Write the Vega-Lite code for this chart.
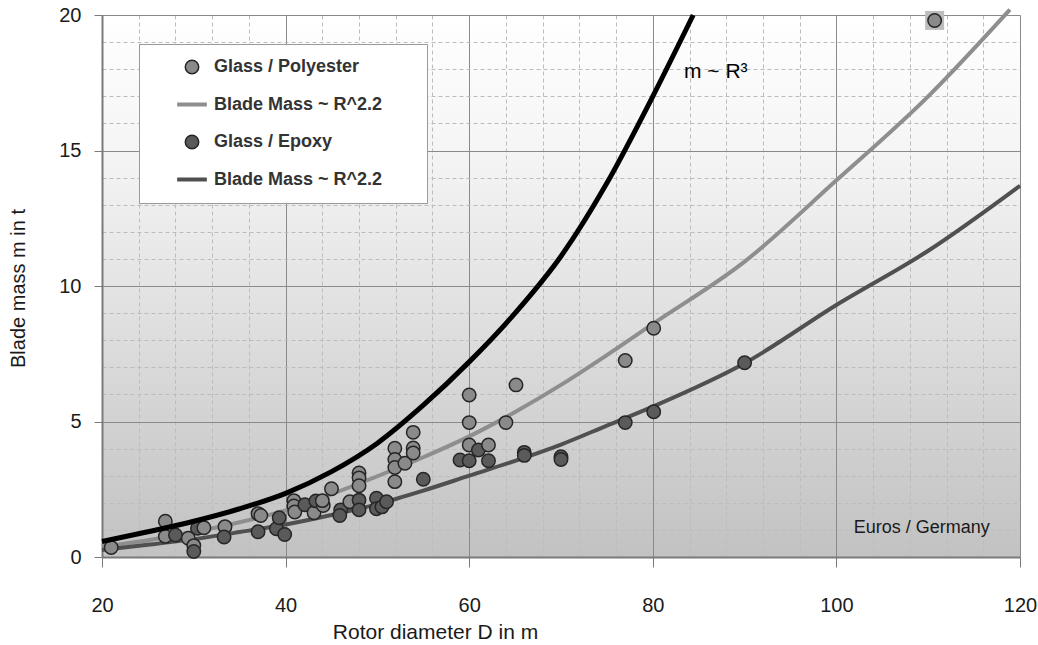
{
  "$schema": "https://vega.github.io/schema/vega-lite/v6.json",
  "width": 918,
  "height": 542,
  "autosize": {"type": "none"},
  "padding": {"left": 102, "top": 15, "right": 18, "bottom": 88},
  "background": "#ffffff",
  "config": {
    "font": "Liberation Sans",
    "view": {
      "stroke": null,
      "fill": {"gradient": "linear", "x1": 0, "y1": 0, "x2": 0, "y2": 1,
        "stops": [
          {"offset": 0, "color": "#ffffff"},
          {"offset": 0.25, "color": "#f5f5f5"},
          {"offset": 0.5, "color": "#e4e4e4"},
          {"offset": 0.75, "color": "#d2d2d2"},
          {"offset": 1, "color": "#c2c2c2"}
        ]}
    },
    "axis": {
      "labelFont": "Liberation Sans", "labelFontSize": 20, "labelColor": "#1a1a1a", "labelFlush": false,
      "titleFont": "Liberation Sans", "titleFontSize": 20, "titleFontWeight": "normal", "titleColor": "#1a1a1a"
    }
  },
  "datasets": {
    "pts": [
      {"D": 21.0, "m": 0.35, "key": "poly"},
      {"D": 26.9, "m": 1.32, "key": "poly"},
      {"D": 26.9, "m": 0.76, "key": "poly"},
      {"D": 28.0, "m": 0.81, "key": "epoxy"},
      {"D": 29.4, "m": 0.69, "key": "poly"},
      {"D": 30.0, "m": 0.42, "key": "poly"},
      {"D": 30.0, "m": 0.2, "key": "epoxy"},
      {"D": 30.4, "m": 1.06, "key": "epoxy"},
      {"D": 31.1, "m": 1.08, "key": "poly"},
      {"D": 33.4, "m": 1.12, "key": "poly"},
      {"D": 33.3, "m": 0.74, "key": "epoxy"},
      {"D": 37.0, "m": 0.93, "key": "epoxy"},
      {"D": 37.0, "m": 1.6, "key": "poly"},
      {"D": 37.3, "m": 1.53, "key": "poly"},
      {"D": 39.0, "m": 1.04, "key": "epoxy"},
      {"D": 39.3, "m": 1.45, "key": "epoxy"},
      {"D": 39.9, "m": 0.83, "key": "epoxy"},
      {"D": 40.9, "m": 2.08, "key": "poly"},
      {"D": 40.9, "m": 1.88, "key": "poly"},
      {"D": 41.0, "m": 1.66, "key": "poly"},
      {"D": 42.1, "m": 1.93, "key": "epoxy"},
      {"D": 43.1, "m": 1.63, "key": "poly"},
      {"D": 43.3, "m": 2.07, "key": "epoxy"},
      {"D": 44.1, "m": 1.9, "key": "poly"},
      {"D": 44.0, "m": 2.08, "key": "poly"},
      {"D": 45.0, "m": 2.52, "key": "poly"},
      {"D": 46.0, "m": 1.74, "key": "epoxy"},
      {"D": 45.9, "m": 1.53, "key": "epoxy"},
      {"D": 47.0, "m": 2.04, "key": "poly"},
      {"D": 48.0, "m": 3.1, "key": "poly"},
      {"D": 48.0, "m": 2.92, "key": "poly"},
      {"D": 48.0, "m": 2.63, "key": "poly"},
      {"D": 48.0, "m": 2.1, "key": "epoxy"},
      {"D": 48.0, "m": 1.74, "key": "epoxy"},
      {"D": 49.9, "m": 2.17, "key": "epoxy"},
      {"D": 49.9, "m": 1.78, "key": "epoxy"},
      {"D": 50.5, "m": 1.85, "key": "epoxy"},
      {"D": 51.0, "m": 2.04, "key": "epoxy"},
      {"D": 51.9, "m": 4.01, "key": "poly"},
      {"D": 51.9, "m": 3.6, "key": "poly"},
      {"D": 51.9, "m": 3.3, "key": "poly"},
      {"D": 51.9, "m": 2.78, "key": "poly"},
      {"D": 53.0, "m": 3.46, "key": "poly"},
      {"D": 53.9, "m": 4.6, "key": "poly"},
      {"D": 53.9, "m": 4.02, "key": "poly"},
      {"D": 53.9, "m": 3.84, "key": "poly"},
      {"D": 55.0, "m": 2.87, "key": "epoxy"},
      {"D": 59.0, "m": 3.58, "key": "epoxy"},
      {"D": 60.0, "m": 5.98, "key": "poly"},
      {"D": 60.0, "m": 4.96, "key": "poly"},
      {"D": 60.0, "m": 4.13, "key": "poly"},
      {"D": 60.0, "m": 3.55, "key": "epoxy"},
      {"D": 61.0, "m": 3.95, "key": "epoxy"},
      {"D": 62.1, "m": 4.13, "key": "poly"},
      {"D": 62.1, "m": 3.55, "key": "epoxy"},
      {"D": 64.0, "m": 4.96, "key": "poly"},
      {"D": 65.1, "m": 6.35, "key": "poly"},
      {"D": 66.0, "m": 3.86, "key": "epoxy"},
      {"D": 66.0, "m": 3.75, "key": "epoxy"},
      {"D": 70.0, "m": 3.7, "key": "epoxy"},
      {"D": 70.0, "m": 3.6, "key": "epoxy"},
      {"D": 77.0, "m": 7.25, "key": "poly"},
      {"D": 77.0, "m": 4.96, "key": "epoxy"},
      {"D": 80.1, "m": 8.44, "key": "poly"},
      {"D": 80.1, "m": 5.36, "key": "epoxy"},
      {"D": 90.0, "m": 7.17, "key": "epoxy"},
      {"D": 110.7, "m": 19.8, "key": "poly"}
    ],
    "cubic": [
      {"D": 20, "m": 0.57}, {"D": 25, "m": 0.93}, {"D": 30, "m": 1.32}, {"D": 35, "m": 1.78},
      {"D": 40, "m": 2.35}, {"D": 45, "m": 3.15}, {"D": 50, "m": 4.2}, {"D": 55, "m": 5.6},
      {"D": 60, "m": 7.2}, {"D": 65, "m": 9.0}, {"D": 70, "m": 11.1}, {"D": 75, "m": 13.8},
      {"D": 80, "m": 17.0}, {"D": 84.4, "m": 20.0}
    ],
    "polyfit": [
      {"D": 20, "m": 0.38}, {"D": 25, "m": 0.62}, {"D": 30, "m": 0.92}, {"D": 35, "m": 1.28},
      {"D": 40, "m": 1.72}, {"D": 45, "m": 2.32}, {"D": 50, "m": 2.98}, {"D": 55, "m": 3.68},
      {"D": 60, "m": 4.45}, {"D": 65, "m": 5.35}, {"D": 70, "m": 6.35}, {"D": 75, "m": 7.45},
      {"D": 80, "m": 8.6}, {"D": 90, "m": 10.9}, {"D": 100, "m": 13.9}, {"D": 110, "m": 17.0},
      {"D": 118.9, "m": 20.2}
    ],
    "epoxyfit": [
      {"D": 20, "m": 0.26}, {"D": 25, "m": 0.45}, {"D": 30, "m": 0.66}, {"D": 35, "m": 0.92},
      {"D": 40, "m": 1.2}, {"D": 45, "m": 1.55}, {"D": 50, "m": 1.95}, {"D": 55, "m": 2.45},
      {"D": 60, "m": 3.0}, {"D": 65, "m": 3.55}, {"D": 70, "m": 4.15}, {"D": 75, "m": 4.85},
      {"D": 80, "m": 5.55}, {"D": 90, "m": 7.15}, {"D": 100, "m": 9.3}, {"D": 110, "m": 11.3},
      {"D": 120, "m": 13.7}
    ]
  },
  "resolve": {"axis": {"x": "independent", "y": "independent"}},
  "layer": [
    {
      "data": {"name": "polyfit"},
      "mark": {"type": "line", "color": "#8e8e8e", "strokeWidth": 4, "interpolate": "monotone", "clip": false},
      "encoding": {
        "x": {"field": "D", "type": "quantitative", "scale": {"domain": [20, 120], "nice": false},
          "axis": {"orient": "bottom", "values": [24, 28, 32, 36, 44, 48, 52, 56, 64, 68, 72, 76, 84, 88, 92, 96, 104, 108, 112, 116],
            "labels": false, "ticks": false, "domain": false, "title": null, "grid": true,
            "gridColor": "#bcbcbc", "gridDash": [4, 3], "gridWidth": 1}},
        "y": {"field": "m", "type": "quantitative", "scale": {"domain": [0, 20], "nice": false},
          "axis": {"orient": "left", "values": [1, 2, 3, 4, 6, 7, 8, 9, 11, 12, 13, 14, 16, 17, 18, 19],
            "labels": false, "ticks": false, "domain": false, "title": null, "grid": true,
            "gridColor": "#bcbcbc", "gridDash": [4, 3], "gridWidth": 1}}
      }
    },
    {
      "data": {"name": "epoxyfit"},
      "mark": {"type": "line", "color": "#505050", "strokeWidth": 4, "interpolate": "monotone", "clip": false},
      "encoding": {
        "x": {"field": "D", "type": "quantitative",
          "axis": {"orient": "bottom", "values": [20, 40, 60, 80, 100, 120], "grid": true,
            "gridColor": "#8a8a8a", "gridWidth": 1, "tickSize": 10, "tickColor": "#7a7a7a",
            "domainColor": "#7a7a7a", "domainWidth": 2, "labelPadding": 28,
            "title": "Rotor diameter D in m", "titleFontSize": 21, "titleX": 333, "titleY": 75, "titleBaseline": "middle", "titleAlign": "center"}},
        "y": {"field": "m", "type": "quantitative",
          "axis": {"orient": "left", "values": [0, 5, 10, 15, 20], "grid": true,
            "gridColor": "#8a8a8a", "gridWidth": 1, "tickSize": 8, "tickColor": "#7a7a7a",
            "domainColor": "#7a7a7a", "domainWidth": 2, "labelPadding": 13,
            "title": "Blade mass m in t", "titleX": -84, "titleY": 273, "titleBaseline": "middle", "titleAlign": "center", "titleAngle": -90}}
      }
    },
    {
      "data": {"values": [{}]},
      "mark": {"type": "point", "shape": "square", "filled": true, "size": 360, "color": "#bdbdbd", "opacity": 1},
      "encoding": {
        "x": {"datum": 110.7, "type": "quantitative", "axis": null},
        "y": {"datum": 19.8, "type": "quantitative", "axis": null}
      }
    },
    {
      "data": {"name": "pts"},
      "mark": {"type": "point", "filled": true, "size": 180, "strokeWidth": 1.5, "opacity": 1},
      "encoding": {
        "x": {"field": "D", "type": "quantitative", "axis": null},
        "y": {"field": "m", "type": "quantitative", "axis": null},
        "fill": {"field": "key", "type": "nominal",
          "scale": {"domain": ["poly", "polyfit", "epoxy", "epoxyfit"], "range": ["#8a8a8a", "#8e8e8e", "#5a5a5a", "#505050"]},
          "legend": {
            "title": null, "orient": "none", "legendX": 37, "legendY": 29,
            "labelExpr": "datum.value == 'poly' ? 'Glass / Polyester' : datum.value == 'epoxy' ? 'Glass / Epoxy' : 'Blade Mass ~ R^2.2\u00a0\u00a0\u00a0\u00a0\u00a0\u00a0\u200b'",
            "fillColor": "#ffffff", "strokeColor": "#9a9a9a", "padding": 14,
            "symbolOffset": 30, "labelOffset": 13, "rowPadding": 18.5, "labelLimit": 400,
            "labelFont": "Liberation Sans", "labelFontSize": 18, "labelFontWeight": "bold", "labelColor": "#333333",
            "symbolSize": 180, "symbolStrokeWidth": 1.5
          }},
        "stroke": {"field": "key", "type": "nominal",
          "scale": {"domain": ["poly", "polyfit", "epoxy", "epoxyfit"], "range": ["#262626", "#8e8e8e", "#262626", "#505050"]}},
        "shape": {"field": "key", "type": "nominal",
          "scale": {"domain": ["poly", "polyfit", "epoxy", "epoxyfit"], "range": ["circle", "M-2.1,-0.17H2.1V0.17H-2.1Z", "circle", "M-2.1,-0.17H2.1V0.17H-2.1Z"]}}
      }
    },
    {
      "data": {"name": "cubic"},
      "mark": {"type": "line", "color": "#000000", "strokeWidth": 5, "interpolate": "monotone", "clip": false},
      "encoding": {
        "x": {"field": "D", "type": "quantitative", "axis": null},
        "y": {"field": "m", "type": "quantitative", "axis": null}
      }
    },
    {
      "data": {"values": [{}]},
      "mark": {"type": "text", "text": "m ~ R³", "align": "left", "baseline": "middle", "fontSize": 21, "font": "Liberation Sans", "color": "#000000"},
      "encoding": {
        "x": {"datum": 83.4, "type": "quantitative", "axis": null},
        "y": {"datum": 17.9, "type": "quantitative", "axis": null}
      }
    },
    {
      "data": {"values": [{}]},
      "mark": {"type": "text", "text": "Euros / Germany", "align": "center", "baseline": "middle", "fontSize": 18, "font": "Liberation Sans", "color": "#1a1a1a"},
      "encoding": {
        "x": {"datum": 109.3, "type": "quantitative", "axis": null},
        "y": {"datum": 1.07, "type": "quantitative", "axis": null}
      }
    }
  ]
}
